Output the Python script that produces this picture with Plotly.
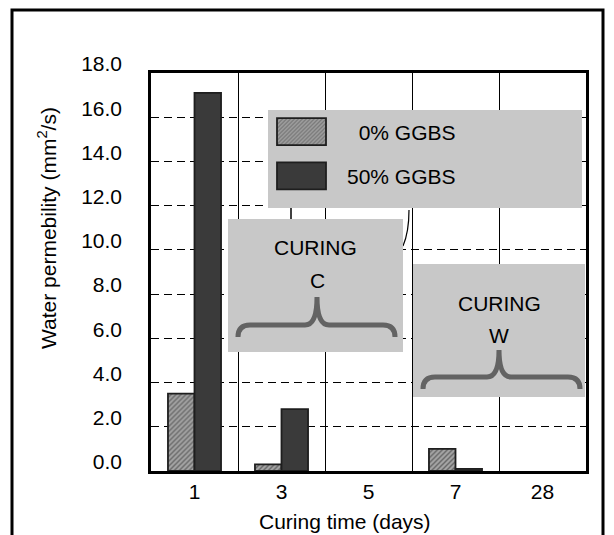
import plotly.graph_objects as go

# ---------------- data ----------------
categories = ["1", "3", "5", "7", "28"]
ggbs0 = [3.5, 0.3, None, 1.0, None]
ggbs50 = [17.1, 2.8, None, 0.1, None]
y_ticks = [0, 2, 4, 6, 8, 10, 12, 14, 16, 18]
y_ticktext = ["0.0", "2.0", "4.0", "6.0", "8.0", "10.0", "12.0", "14.0", "16.0", "18.0"]

# ---------------- geometry helpers ----------------
FIG_W, FIG_H = 614, 535
L, R, T, B = 151, 586, 73, 471
PW, PH = R - L, B - T


def px(x):
    return (x - L) / PW


def py(y):
    return (B - y) / PH


FONT = "Liberation Sans, Arial, sans-serif"

fig = go.Figure()
fig.add_trace(go.Bar(
    x=categories, y=ggbs0, name="\u20070% GGBS", legendgroup="a",
    marker=dict(color="#a4a4a4", line=dict(color="#1e1e1e", width=1.8),
                pattern=dict(shape="/", fgcolor="#2e2e2e", bgcolor="#a4a4a4",
                             size=3.5, solidity=0.42)),
))
fig.add_trace(go.Bar(
    x=categories, y=ggbs50, name="50% GGBS", legendgroup="b",
    marker=dict(color="#3a3a3a", line=dict(color="#1e1e1e", width=1.8)),
))


def brace(xl, xr, xm, yend, yflat, ypeak, r=12):
    pts = [
        ("M", [(xl, yend)]),
        ("Q", [(xl, yflat), (xl + r, yflat)]),
        ("L", [(xm - r, yflat)]),
        ("Q", [(xm, yflat), (xm, ypeak)]),
        ("Q", [(xm, yflat), (xm + r, yflat)]),
        ("L", [(xr - r, yflat)]),
        ("Q", [(xr, yflat), (xr, yend)]),
    ]
    s = ""
    for cmd, ps in pts:
        s += cmd + " " + " ".join(f"{px(a):.5f},{py(b):.5f}" for a, b in ps) + " "
    return s.strip()


GRAY = "#c8c8c8"
shapes = [
    # outer frame
    dict(type="rect", xref="paper", yref="paper", x0=px(12), x1=px(603), y0=py(560), y1=py(10),
         line=dict(color="black", width=3), fillcolor="rgba(0,0,0,0)", layer="above"),
    # small remnants of hidden strokes between the boxes
    dict(type="line", xref="paper", yref="paper", x0=px(291), x1=px(291), y0=py(219), y1=py(208),
         line=dict(color="black", width=1.5), layer="above"),
    dict(type="path", xref="paper", yref="paper",
         path=f"M {px(409):.5f},{py(210):.5f} Q {px(409):.5f},{py(232):.5f} {px(403):.5f},{py(246):.5f}",
         line=dict(color="black", width=1.2), layer="above"),
    # legend box
    dict(type="rect", xref="paper", yref="paper", x0=px(268), x1=px(582), y0=py(208), y1=py(110),
         line=dict(width=0), fillcolor=GRAY, layer="above"),
    # curing C box
    dict(type="rect", xref="paper", yref="paper", x0=px(228), x1=px(403), y0=py(352), y1=py(219),
         line=dict(width=0), fillcolor=GRAY, layer="above"),
    # curing W box
    dict(type="rect", xref="paper", yref="paper", x0=px(413), x1=px(585), y0=py(397), y1=py(264),
         line=dict(width=0), fillcolor=GRAY, layer="above"),
    dict(type="path", xref="paper", yref="paper", path=brace(238, 395, 317, 337, 325, 297),
         line=dict(color="#636363", width=5), layer="above"),
    dict(type="path", xref="paper", yref="paper", path=brace(423, 580, 499, 389, 377, 350),
         line=dict(color="#636363", width=5), layer="above"),
]


def ann(text, x, y, **kw):
    d = dict(text=text, x=px(x), y=py(y), xref="paper", yref="paper", showarrow=False,
             xanchor="center", yanchor="middle",
             font=dict(size=21, color="black", family=FONT))
    d.update(kw)
    return d


annotations = [
    ann("CURING", 315, 247),
    ann("C", 317, 280),
    ann("CURING", 499, 303),
    ann("W", 499, 335),
    ann("Water permebility (mm<sup>2</sup>/s)", 47, 228, textangle=-90),
    ann("Curing time (days)", 345, 521),
]

fig.update_layout(
    width=FIG_W, height=FIG_H,
    margin=dict(l=L, r=FIG_W - R, t=T, b=FIG_H - B, pad=0),
    paper_bgcolor="white", plot_bgcolor="white",
    barmode="group", bargap=0.39, bargroupgap=0,
    font=dict(family=FONT, size=20, color="black"),
    showlegend=True,
    legend=dict(x=px(256), y=py(111.5), xanchor="left", yanchor="top",
                bgcolor="rgba(0,0,0,0)", borderwidth=0, itemwidth=81,
                traceorder="grouped", tracegroupgap=14,
                font=dict(size=21, family=FONT, color="black")),
    shapes=shapes,
    annotations=annotations,
)
fig.update_xaxes(
    type="category", categoryorder="array", categoryarray=categories,
    showline=True, linecolor="black", linewidth=2.5, mirror=True,
    showgrid=True, gridcolor="black", gridwidth=1, tickson="boundaries",
    ticks="outside", ticklen=6, tickcolor="rgba(0,0,0,0)",
    tickfont=dict(size=21, family=FONT, color="black"),
)
fig.update_yaxes(
    range=[0, 18], tickvals=y_ticks, ticktext=y_ticktext,
    showline=True, linecolor="black", linewidth=2.5, mirror=True,
    showgrid=True, gridcolor="black", gridwidth=1, griddash="8px,5px",
    zeroline=False, ticks="outside", ticklen=22, tickcolor="rgba(0,0,0,0)",
    ticklabelshift=-9,
    tickfont=dict(size=21, family=FONT, color="black"),
)

post = """
var gd = document.getElementById('{plot_id}');
function fixSw(){
  var root = gd || document;
  root.querySelectorAll('g.legendpoints path').forEach(function(p){
    p.setAttribute('d','M24.5,13.5H-24.5V-13.5H24.5Z');
  });
}
fixSw(); setTimeout(fixSw, 30); setTimeout(fixSw, 200); setTimeout(fixSw, 800);
"""

fig.write_html("out.html", post_script=post)
